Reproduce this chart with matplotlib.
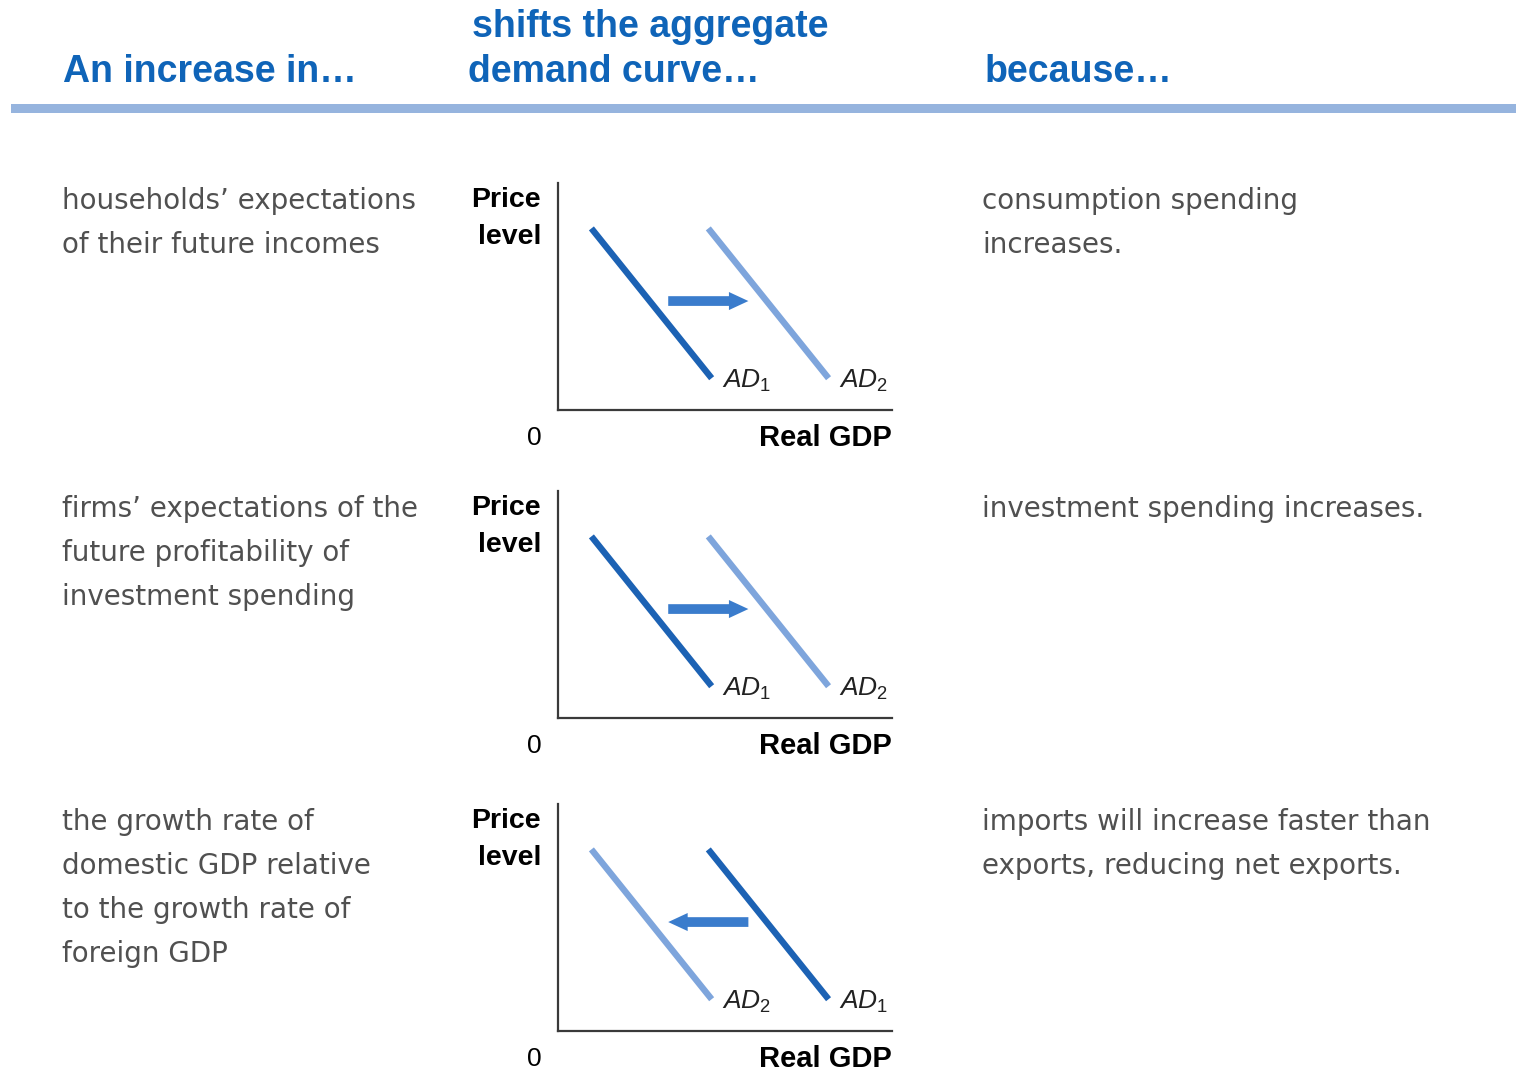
import matplotlib.pyplot as plt
from matplotlib import font_manager as fm

plt.rcParams["mathtext.fontset"] = "custom"
plt.rcParams["mathtext.it"] = "Liberation Sans:italic"
plt.rcParams["mathtext.rm"] = "Liberation Sans"

# --- content -------------------------------------------------------------
header_lines = [("An increase in…",), ("shifts the aggregate", "demand curve…"), ("because…",)]
causes = [
    ["households’ expectations", "of their future incomes"],
    ["firms’ expectations of the", "future profitability of", "investment spending"],
    ["the growth rate of", "domestic GDP relative", "to the growth rate of", "foreign GDP"],
]
effects = [
    ["consumption spending", "increases."],
    ["investment spending increases."],
    ["imports will increase faster than", "exports, reducing net exports."],
]
shift = ["right", "right", "left"]

# AD curves in panel data units (0-10 both axes)
ad_left_x = [1.0, 4.6]
ad_right_x = [4.5, 8.1]
ad_y = [8.0, 1.4]
arrow_x = [3.3, 5.7]
arrow_y = 4.8

dark_blue = "#1c62b4"
light_blue = "#7ea5dc"
arrow_blue = "#3a7ccc"
head_blue = "#0f64b8"
bar_blue = "#96b4de"
text_gray = "#505050"

body_fp = fm.FontProperties(family="DejaVu Sans", size=18.5)

W, H = 1516, 1072
fig = plt.figure(figsize=(W / 100, H / 100), dpi=100)
bg = fig.add_axes([0, 0, 1, 1])
bg.set_xlim(0, W)
bg.set_ylim(H, 0)
bg.axis("off")

# header
head_x = [(63,), (472, 468), (985,)]
for lines, xs in zip(header_lines, head_x):
    n = len(lines)
    for i, (line, x) in enumerate(zip(lines, xs)):
        bg.text(x, 72 - 45 * (n - 1 - i), line, fontsize=27, fontweight="bold", color=head_blue,
                family="Liberation Sans", ha="left", va="center")
bg.fill_between([11, W], 104, 113, color=bar_blue, lw=0)

body_texts = []
row_top = [183, 491, 804]
panel_h = 227
for r in range(3):
    top = row_top[r]
    bot = top + panel_h
    for i, line in enumerate(causes[r]):
        body_texts.append(bg.text(62, top + 18 + 44 * i, line, fontproperties=body_fp,
                                  color=text_gray, ha="left", va="center"))
    for i, line in enumerate(effects[r]):
        body_texts.append(bg.text(982, top + 18 + 44 * i, line, fontproperties=body_fp,
                                  color=text_gray, ha="left", va="center"))
    bg.text(541, top + 17, "Price", fontsize=20.5, fontweight="bold", ha="right", va="center",
            family="Liberation Sans")
    bg.text(541, top + 54, "level", fontsize=20.5, fontweight="bold", ha="right", va="center",
            family="Liberation Sans")
    bg.text(534, bot + 28, "0", fontsize=19, ha="center", va="center", family="Liberation Sans")
    bg.text(892, bot + 28, "Real GDP", fontsize=21, fontweight="bold", ha="right", va="center",
            family="Liberation Sans")

    ax = fig.add_axes([558 / W, 1 - bot / H, (892 - 558) / W, panel_h / H])
    ax.set_xlim(0, 10)
    ax.set_ylim(0, 10)
    ax.patch.set_alpha(0)
    for s in ["top", "right"]:
        ax.spines[s].set_visible(False)
    for s in ["left", "bottom"]:
        ax.spines[s].set_linewidth(1.6)
        ax.spines[s].set_color("#3a3a3a")
    ax.set_xticks([])
    ax.set_yticks([])

    if shift[r] == "right":
        left_col, right_col = dark_blue, light_blue
        left_lab, right_lab = "$\\mathit{AD}_{1}$", "$\\mathit{AD}_{2}$"
        start, end = arrow_x[0], arrow_x[1]
    else:
        left_col, right_col = light_blue, dark_blue
        left_lab, right_lab = "$\\mathit{AD}_{2}$", "$\\mathit{AD}_{1}$"
        start, end = arrow_x[1], arrow_x[0]

    ax.plot(ad_left_x, ad_y, color=left_col, lw=4.6, solid_capstyle="butt")
    ax.plot(ad_right_x, ad_y, color=right_col, lw=4.6, solid_capstyle="butt")
    ax.text(ad_left_x[1] + 0.3, ad_y[1] - 0.1, left_lab, fontsize=19, color="#222222",
            ha="left", va="center")
    ax.text(ad_right_x[1] + 0.3, ad_y[1] - 0.1, right_lab, fontsize=19, color="#222222",
            ha="left", va="center")
    ax.annotate("", xy=(end, arrow_y), xytext=(start, arrow_y),
                arrowprops=dict(arrowstyle="simple,head_width=0.65,head_length=0.7,tail_width=0.35",
                                mutation_scale=20, color=arrow_blue, lw=0,
                                shrinkA=0, shrinkB=0))

# size the body text so the first line spans about the same width as the reference
renderer = fig.canvas.get_renderer()
w = body_texts[0].get_window_extent(renderer).width
size = min(max(18.5 * 356 / w, 16.5), 20.5)
for t in body_texts:
    t.set_fontsize(size)

fig.savefig("out.png", dpi=100)
